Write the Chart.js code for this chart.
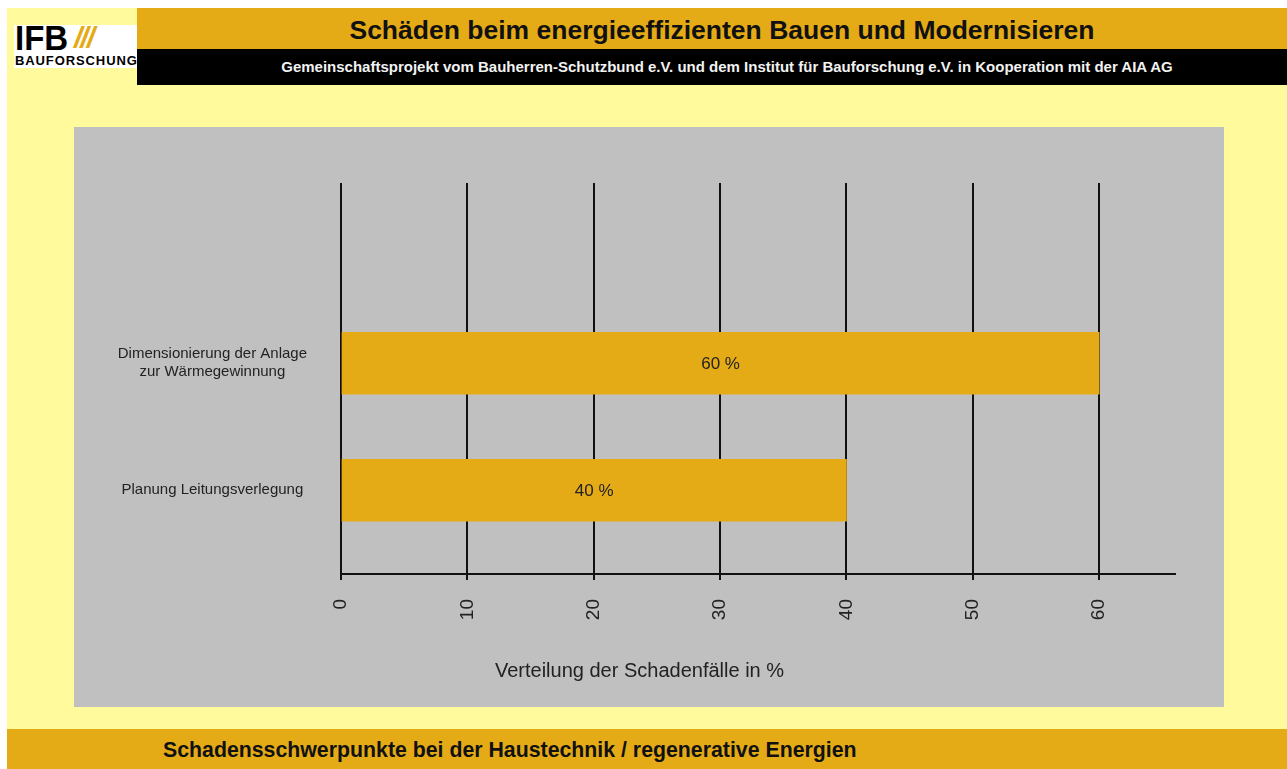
<!DOCTYPE html>
<html>
<head>
<meta charset="utf-8">
<script src="https://cdn.jsdelivr.net/npm/chart.js@4"></script>
<style>
  html, body { margin: 0; padding: 0; background: #ffffff; }
  body { width: 1287px; height: 769px; position: relative; overflow: hidden; font-family: "Liberation Sans", Arial, sans-serif; }
  #bg { position: absolute; left: 7px; top: 8px; width: 1280px; height: 761px; background: #FFFB9D; }
  #logo { position: absolute; left: 14px; top: 25px; width: 123px; height: 43px; background: #ffffff; }
  #logo .ifb { position: absolute; left: 1px; top: -3px; font-weight: bold; font-size: 33px; color: #000; line-height: 32px; transform: scaleY(1.05); transform-origin: top left; }
  #logo .sl { position: absolute; left: 60px; top: -3px; font-weight: bold; font-style: italic; font-size: 30px; color: #E5AB17; line-height: 32px; letter-spacing: -2px; }
  #logo .bf { position: absolute; left: 1px; top: 29px; font-weight: 900; font-size: 13px; color: #000; line-height: 13px; letter-spacing: 0.9px; }
  #titlebar { position: absolute; left: 137px; top: 8px; width: 1150px; height: 41px; background: #E5AB17; }
  #title { position: absolute; left: 20px; right: 0; top: 0; height: 41px; line-height: 44px; text-align: center; font-weight: bold; font-size: 26.5px; color: #111; }
  #subbar { position: absolute; left: 137px; top: 49px; width: 1150px; height: 36px; background: #000; }
  #subtitle { position: absolute; left: 30px; right: 0; top: 0; height: 36px; line-height: 36px; text-align: center; font-weight: bold; font-size: 15px; color: #f2f2f2; }
  #panel { position: absolute; left: 74px; top: 127px; width: 1150px; height: 580px; background: #C0C0C0; }
  #wrap { position: absolute; left: 74px; top: 127px; width: 1132px; height: 580px; }
  #footer { position: absolute; left: 7px; top: 729px; width: 1280px; height: 40px; background: #E5AB17; }
  #footer span { position: absolute; left: 156px; top: 0; line-height: 42px; font-weight: bold; font-size: 21.3px; color: #111; }
</style>
</head>
<body>
<div id="bg"></div>
<div id="logo"><span class="ifb">IFB</span><span class="sl">///</span><span class="bf">BAUFORSCHUNG</span></div>
<div id="titlebar"><div id="title">Schäden beim energieeffizienten Bauen und Modernisieren</div></div>
<div id="subbar"><div id="subtitle">Gemeinschaftsprojekt vom Bauherren-Schutzbund e.V. und dem Institut für Bauforschung e.V. in Kooperation mit der AIA AG</div></div>
<div id="panel"></div>
<div id="wrap"><canvas id="c" width="1132" height="580"></canvas></div>
<div id="footer"><span>Schadensschwerpunkte bei der Haustechnik / regenerative Energien</span></div>
<script>
// ---- data ----
const categories = [
  ["Dimensionierung der Anlage", "zur Wärmegewinnung"],
  ["Planung Leitungsverlegung"]
];
const values = [60, 40];
const valueLabels = ["60 %", "40 %"];
const xTicks = [0, 10, 20, 30, 40, 50, 60];
const xAxisTitle = "Verteilung der Schadenfälle in %";

const barColor = "#E5AB17";
const points = values.map((v, i) => ({ x: v, y: i + 1 }));

const barLabelPlugin = {
  id: "barLabels",
  afterDatasetsDraw(chart) {
    const ctx = chart.ctx;
    const meta = chart.getDatasetMeta(0);
    ctx.save();
    ctx.font = "17px 'Liberation Sans', Arial, sans-serif";
    ctx.fillStyle = "#222";
    ctx.textAlign = "center";
    ctx.textBaseline = "middle";
    meta.data.forEach((el, i) => {
      const p = el.getProps(["x", "y", "base"], true);
      ctx.fillText(valueLabels[i], (p.x + p.base) / 2, p.y + 1);
    });
    ctx.restore();
  }
};

new Chart(document.getElementById("c"), {
  type: "bar",
  data: {
    datasets: [{
      data: points,
      backgroundColor: barColor,
      borderWidth: 0,
      barThickness: 62
    }]
  },
  options: {
    indexAxis: "y",
    responsive: false,
    animation: false,
    devicePixelRatio: 1,
    layout: { padding: { top: 56, right: 31, left: 30, bottom: 0 } },
    plugins: {
      legend: { display: false },
      tooltip: { enabled: false },
      title: {
        display: true,
        position: "bottom",
        text: xAxisTitle,
        color: "#222",
        font: { family: "'Liberation Sans', Arial, sans-serif", size: 20, weight: "normal" },
        padding: { top: 0, bottom: 24 }
      }
    },
    scales: {
      x: {
        type: "linear",
        min: 0,
        max: 66,
        afterBuildTicks(scale) { scale.ticks = xTicks.map(v => ({ value: v })); },
        afterFit(scale) { scale.height = 85; },
        ticks: {
          includeBounds: false,
          minRotation: 90,
          maxRotation: 90,
          padding: 19,
          color: "#222",
          font: { family: "'Liberation Sans', Arial, sans-serif", size: 19 }
        },
        grid: { display: true, color: "#111", lineWidth: 2, drawTicks: true, tickLength: 6, tickColor: "#111" },
        border: { display: true, color: "#111", width: 2 }
      },
      y: {
        type: "linear",
        reverse: true,
        offset: false,
        min: -0.42,
        max: 2.66,
        afterBuildTicks(scale) { scale.ticks = categories.map((c, i) => ({ value: i + 1 })); },
        afterFit(scale) { scale.width = 237; },
        ticks: {
          callback: (v) => categories[v - 1],
          crossAlign: "center",
          padding: 34,
          color: "#222",
          font: { family: "'Liberation Sans', Arial, sans-serif", size: 15 }
        },
        grid: { display: false, drawTicks: false, offset: false },
        border: { display: false }
      }
    }
  },
  plugins: [barLabelPlugin]
});
</script>
</body>
</html>
